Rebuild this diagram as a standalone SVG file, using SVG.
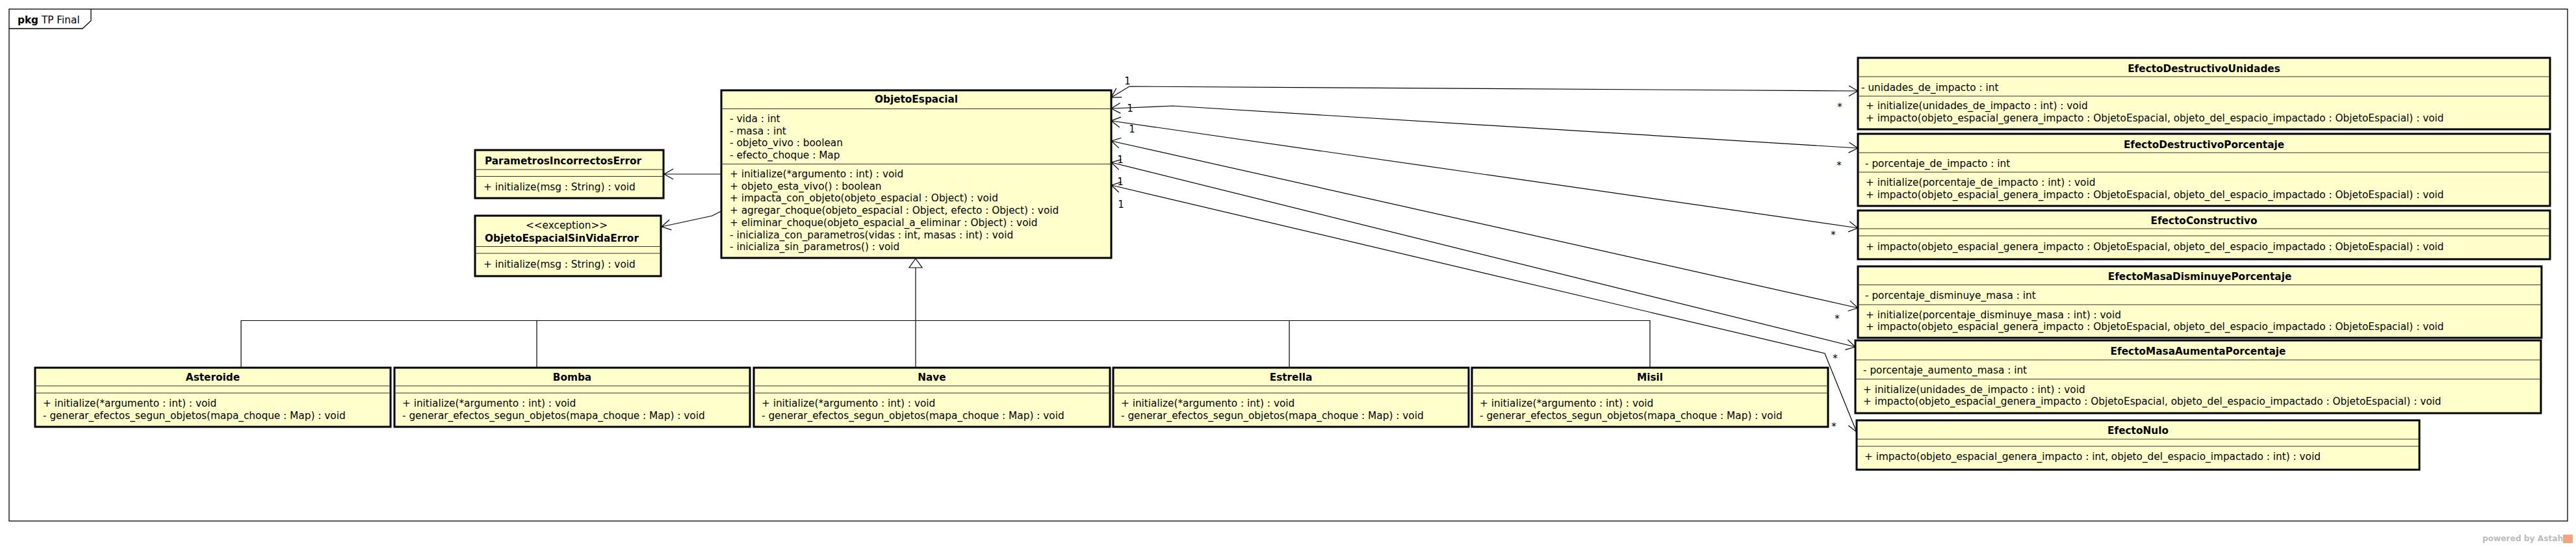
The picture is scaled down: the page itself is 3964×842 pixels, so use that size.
<svg xmlns="http://www.w3.org/2000/svg" width="3964" height="842" viewBox="0 0 3964 842">
<style>
.box{fill:#FFFFCC;stroke:#000;stroke-width:3}
.sep{stroke:#333;stroke-width:1.2}
.t{font-family:"DejaVu Sans","Liberation Sans",sans-serif;font-size:15.3px;fill:#000}
.b{font-weight:bold}
.c{text-anchor:middle}
.conn{fill:none;stroke:#000;stroke-width:1.2}
.lbl{font-family:"DejaVu Sans","Liberation Sans",sans-serif;font-size:15px;fill:#000;text-anchor:middle}
</style>
<defs>
<marker id="oa" viewBox="-16 -10 18 20" refX="0" refY="0" markerWidth="18" markerHeight="20" markerUnits="userSpaceOnUse" orient="auto-start-reverse">
<path d="M-14,-8 L0,0 L-14,8" fill="none" stroke="#000" stroke-width="1.2"/>
</marker>
</defs>
<rect width="3964" height="842" fill="#fff"/>
<g id="frame">
<rect x="14" y="14" width="3937" height="788" fill="none" stroke="#000" stroke-width="1.3"/>
<path d="M14,44 L127,44 L140,32 L140,14" fill="none" stroke="#000" stroke-width="1.3"/>
<text x="27" y="36" class="t"><tspan class="b">pkg</tspan> TP Final</text>
</g>
<g id="connectors">
<path class="conn" d="M1110,268 L1022,268" marker-end="url(#oa)"/>
<path class="conn" d="M1110,325 L1095.7,332.3 L1018,349" marker-end="url(#oa)"/>
<path class="conn" d="M1710,150 L1738,133 L2859,140" marker-start="url(#oa)" marker-end="url(#oa)"/>
<path class="conn" d="M1710,167 L1805,163 L2859,228" marker-start="url(#oa)" marker-end="url(#oa)"/>
<path class="conn" d="M1710,186 L2859,351" marker-start="url(#oa)" marker-end="url(#oa)"/>
<path class="conn" d="M1710,217 L2859,474" marker-start="url(#oa)" marker-end="url(#oa)"/>
<path class="conn" d="M1710,250 L2855,534" marker-start="url(#oa)" marker-end="url(#oa)"/>
<path class="conn" d="M1710,285 L2808,544 L2857,665" marker-start="url(#oa)" marker-end="url(#oa)"/>
<text class="lbl" x="1735" y="130">1</text>
<text class="lbl" x="1739" y="172">1</text>
<text class="lbl" x="1742" y="204">1</text>
<text class="lbl" x="1724" y="251">1</text>
<text class="lbl" x="1724" y="285">1</text>
<text class="lbl" x="1725" y="320">1</text>
<text class="lbl" x="2831" y="170">*</text>
<text class="lbl" x="2830" y="260">*</text>
<text class="lbl" x="2821" y="367">*</text>
<text class="lbl" x="2827" y="496">*</text>
<text class="lbl" x="2824" y="557">*</text>
<text class="lbl" x="2822" y="662">*</text>
<path class="conn" d="M371,566 L371,493.5 L1409,493.5"/>
<path class="conn" d="M826,566 L826,493.5 L1409,493.5"/>
<path class="conn" d="M1984,566 L1984,493.5 L1409,493.5"/>
<path class="conn" d="M2539,566 L2539,493.5 L1409,493.5"/>
<path class="conn" d="M1409,566 L1409,412"/>
<polygon points="1409,398 1399,412 1419,412" fill="#fff" stroke="#000" stroke-width="1.2"/>
</g>
<g id="ObjetoEspacial">
<rect class="box" x="1110" y="139" width="600" height="258"/>
<line class="sep" x1="1110" y1="167.5" x2="1710" y2="167.5"/>
<line class="sep" x1="1110" y1="252.5" x2="1710" y2="252.5"/>
<text class="t b c" x="1410" y="158">ObjetoEspacial</text>
<text class="t" x="1123" y="188">- vida : int</text>
<text class="t" x="1123" y="206.7">- masa : int</text>
<text class="t" x="1123" y="225.4">- objeto_vivo : boolean</text>
<text class="t" x="1123" y="244.1">- efecto_choque : Map</text>
<text class="t" x="1123" y="273">+ initialize(*argumento : int) : void</text>
<text class="t" x="1123" y="291.7">+ objeto_esta_vivo() : boolean</text>
<text class="t" x="1123" y="310.4">+ impacta_con_objeto(objeto_espacial : Object) : void</text>
<text class="t" x="1123" y="329.1">+ agregar_choque(objeto_espacial : Object, efecto : Object) : void</text>
<text class="t" x="1123" y="347.8">+ eliminar_choque(objeto_espacial_a_eliminar : Object) : void</text>
<text class="t" x="1123" y="366.5">- inicializa_con_parametros(vidas : int, masas : int) : void</text>
<text class="t" x="1123" y="385.2">- inicializa_sin_parametros() : void</text>
</g>
<g id="ParametrosIncorrectosError">
<rect class="box" x="731" y="231" width="290" height="74"/>
<line class="sep" x1="731" y1="261" x2="1021" y2="261"/>
<line class="sep" x1="731" y1="271.5" x2="1021" y2="271.5"/>
<text class="t b" x="746" y="253">ParametrosIncorrectosError</text>
<text class="t" x="744" y="293">+ initialize(msg : String) : void</text>
</g>
<g id="ObjetoEspacialSinVidaError">
<rect class="box" x="731" y="332" width="286" height="93"/>
<line class="sep" x1="731" y1="379.5" x2="1017" y2="379.5"/>
<line class="sep" x1="731" y1="390" x2="1017" y2="390"/>
<text class="t c" x="872" y="352">&lt;&lt;exception&gt;&gt;</text>
<text class="t b" x="746" y="372">ObjetoEspacialSinVidaError</text>
<text class="t" x="744" y="412">+ initialize(msg : String) : void</text>
</g>
<g id="Asteroide">
<rect class="box" x="54" y="566" width="547" height="91"/>
<line class="sep" x1="54" y1="594" x2="601" y2="594"/>
<line class="sep" x1="54" y1="605" x2="601" y2="605"/>
<text class="t b c" x="327.5" y="586">Asteroide</text>
<text class="t" x="66" y="626">+ initialize(*argumento : int) : void</text>
<text class="t" x="66" y="645">- generar_efectos_segun_objetos(mapa_choque : Map) : void</text>
</g>
<g id="Bomba">
<rect class="box" x="607" y="566" width="547" height="91"/>
<line class="sep" x1="607" y1="594" x2="1154" y2="594"/>
<line class="sep" x1="607" y1="605" x2="1154" y2="605"/>
<text class="t b c" x="880.5" y="586">Bomba</text>
<text class="t" x="619" y="626">+ initialize(*argumento : int) : void</text>
<text class="t" x="619" y="645">- generar_efectos_segun_objetos(mapa_choque : Map) : void</text>
</g>
<g id="Nave">
<rect class="box" x="1160" y="566" width="548" height="91"/>
<line class="sep" x1="1160" y1="594" x2="1708" y2="594"/>
<line class="sep" x1="1160" y1="605" x2="1708" y2="605"/>
<text class="t b c" x="1434" y="586">Nave</text>
<text class="t" x="1172" y="626">+ initialize(*argumento : int) : void</text>
<text class="t" x="1172" y="645">- generar_efectos_segun_objetos(mapa_choque : Map) : void</text>
</g>
<g id="Estrella">
<rect class="box" x="1713" y="566" width="547" height="91"/>
<line class="sep" x1="1713" y1="594" x2="2260" y2="594"/>
<line class="sep" x1="1713" y1="605" x2="2260" y2="605"/>
<text class="t b c" x="1986.5" y="586">Estrella</text>
<text class="t" x="1725" y="626">+ initialize(*argumento : int) : void</text>
<text class="t" x="1725" y="645">- generar_efectos_segun_objetos(mapa_choque : Map) : void</text>
</g>
<g id="Misil">
<rect class="box" x="2265" y="566" width="548" height="91"/>
<line class="sep" x1="2265" y1="594" x2="2813" y2="594"/>
<line class="sep" x1="2265" y1="605" x2="2813" y2="605"/>
<text class="t b c" x="2539" y="586">Misil</text>
<text class="t" x="2277" y="626">+ initialize(*argumento : int) : void</text>
<text class="t" x="2277" y="645">- generar_efectos_segun_objetos(mapa_choque : Map) : void</text>
</g>
<g id="EfectoDestructivoUnidades">
<rect class="box" x="2859" y="89" width="1065" height="110"/>
<line class="sep" x1="2859" y1="118" x2="3924" y2="118"/>
<line class="sep" x1="2859" y1="148" x2="3924" y2="148"/>
<text class="t b c" x="3391.5" y="111">EfectoDestructivoUnidades</text>
<text class="t" x="2864" y="140">- unidades_de_impacto : int</text>
<text class="t" x="2871" y="168">+ initialize(unidades_de_impacto : int) : void</text>
<text class="t" x="2871" y="187">+ impacto(objeto_espacial_genera_impacto : ObjetoEspacial, objeto_del_espacio_impactado : ObjetoEspacial) : void</text>
</g>
<g id="EfectoDestructivoPorcentaje">
<rect class="box" x="2859" y="206" width="1065" height="111"/>
<line class="sep" x1="2859" y1="235" x2="3924" y2="235"/>
<line class="sep" x1="2859" y1="265" x2="3924" y2="265"/>
<text class="t b c" x="3391.5" y="228">EfectoDestructivoPorcentaje</text>
<text class="t" x="2870" y="257">- porcentaje_de_impacto : int</text>
<text class="t" x="2871" y="286">+ initialize(porcentaje_de_impacto : int) : void</text>
<text class="t" x="2871" y="304.5">+ impacto(objeto_espacial_genera_impacto : ObjetoEspacial, objeto_del_espacio_impactado : ObjetoEspacial) : void</text>
</g>
<g id="EfectoConstructivo">
<rect class="box" x="2859" y="324" width="1065" height="75"/>
<line class="sep" x1="2859" y1="352" x2="3924" y2="352"/>
<line class="sep" x1="2859" y1="363" x2="3924" y2="363"/>
<text class="t b c" x="3391.5" y="344.5">EfectoConstructivo</text>
<text class="t" x="2871" y="384.5">+ impacto(objeto_espacial_genera_impacto : ObjetoEspacial, objeto_del_espacio_impactado : ObjetoEspacial) : void</text>
</g>
<g id="EfectoMasaDisminuyePorcentaje">
<rect class="box" x="2859" y="410" width="1052" height="110"/>
<line class="sep" x1="2859" y1="438.5" x2="3911" y2="438.5"/>
<line class="sep" x1="2859" y1="469" x2="3911" y2="469"/>
<text class="t b c" x="3385" y="431">EfectoMasaDisminuyePorcentaje</text>
<text class="t" x="2870" y="460">- porcentaje_disminuye_masa : int</text>
<text class="t" x="2871" y="490">+ initialize(porcentaje_disminuye_masa : int) : void</text>
<text class="t" x="2871" y="508">+ impacto(objeto_espacial_genera_impacto : ObjetoEspacial, objeto_del_espacio_impactado : ObjetoEspacial) : void</text>
</g>
<g id="EfectoMasaAumentaPorcentaje">
<rect class="box" x="2855" y="524" width="1055" height="112"/>
<line class="sep" x1="2855" y1="554" x2="3910" y2="554"/>
<line class="sep" x1="2855" y1="583.5" x2="3910" y2="583.5"/>
<text class="t b c" x="3382.5" y="546">EfectoMasaAumentaPorcentaje</text>
<text class="t" x="2867" y="575">- porcentaje_aumento_masa : int</text>
<text class="t" x="2867" y="604.5">+ initialize(unidades_de_impacto : int) : void</text>
<text class="t" x="2867" y="623">+ impacto(objeto_espacial_genera_impacto : ObjetoEspacial, objeto_del_espacio_impactado : ObjetoEspacial) : void</text>
</g>
<g id="EfectoNulo">
<rect class="box" x="2857" y="647" width="866" height="76"/>
<line class="sep" x1="2857" y1="676" x2="3723" y2="676"/>
<line class="sep" x1="2857" y1="687" x2="3723" y2="687"/>
<text class="t b c" x="3290" y="668">EfectoNulo</text>
<text class="t" x="2869" y="708">+ impacto(objeto_espacial_genera_impacto : int, objeto_del_espacio_impactado : int) : void</text>
</g>
<g id="watermark">
<text x="3820" y="833" font-family="DejaVu Sans, sans-serif" font-size="12.2" font-weight="bold" fill="#bbbbbb">powered by Astah</text>
<rect x="3944" y="823" width="15" height="13" fill="#f4a57f"/>
</g>
</svg>
